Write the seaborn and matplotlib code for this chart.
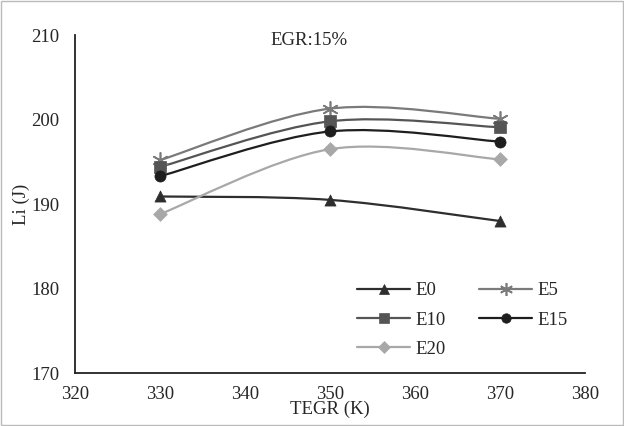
import numpy as np
import pandas as pd
import seaborn as sns
import matplotlib
matplotlib.use("Agg")
import matplotlib.pyplot as plt
from matplotlib.path import Path
from matplotlib.patches import PathPatch
from matplotlib.lines import Line2D

tegr = [330, 350, 370]
e0 = [190.9, 190.5, 188.0]
e5 = [195.2, 201.3, 200.1]
e10 = [194.4, 199.8, 199.1]
e15 = [193.3, 198.6, 197.4]
e20 = [188.8, 196.5, 195.3]
series_names = ["E0", "E5", "E10", "E15", "E20"]
series_vals = [e0, e5, e10, e15, e20]

colors = {"E0": "#2e2e2e", "E5": "#7a7a7a", "E10": "#555555", "E15": "#1e1e1e", "E20": "#a8a8a8"}
markers = {"E0": "^", "E5": (6, 2, 0), "E10": "s", "E15": "o", "E20": "D"}
msizes = {"E0": 8, "E5": 11, "E10": 8, "E15": 8, "E20": 7}

rows = []
for n, v in zip(series_names, series_vals):
    for x, y in zip(tegr, v):
        rows.append({"TEGR": x, "Li": y, "series": n})
df = pd.DataFrame(rows)

sns.set_style("white")
plt.rcParams["font.family"] = ["Liberation Serif", "DejaVu Serif"]

fig = plt.figure(figsize=(6.24, 4.26), dpi=100)
ax = fig.add_axes([0.120, 0.1244, 0.817, 0.793])

def smooth_path(xs, ys):
    pts = np.column_stack([xs, ys]).astype(float)
    n = len(pts)
    verts = [pts[0]]
    codes = [Path.MOVETO]
    for i in range(n - 1):
        p0 = pts[i - 1] if i > 0 else pts[i]
        p1 = pts[i]
        p2 = pts[i + 1]
        p3 = pts[i + 2] if i + 2 < n else pts[i + 1]
        c1 = p1 + (p2 - p0) / 6.0
        c2 = p2 - (p3 - p1) / 6.0
        verts += [c1, c2, p2]
        codes += [Path.CURVE4] * 3
    return Path(verts, codes)

for n, v in zip(series_names, series_vals):
    patch = PathPatch(smooth_path(tegr, v), facecolor="none", edgecolor=colors[n], lw=1.6, zorder=2)
    ax.add_patch(patch)

for n in series_names:
    sub = df[df.series == n]
    sns.scatterplot(data=sub, x="TEGR", y="Li", ax=ax, color=colors[n], marker=markers[n],
                    s=msizes[n] ** 2, edgecolor=colors[n],
                    linewidth=1.2 if n == "E5" else 0.5, zorder=3, legend=False)

ax.set_xlim(320, 380)
ax.set_ylim(170, 210)
ax.set_xticks([320, 330, 340, 350, 360, 370, 380])
ax.set_yticks([170, 180, 190, 200, 210])
for s in ["top", "right"]:
    ax.spines[s].set_visible(False)
for s in ["left", "bottom"]:
    ax.spines[s].set_color("#222222")
    ax.spines[s].set_linewidth(1.3)
ax.tick_params(axis="y", which="both", direction="out", length=5, width=1.2, color="#222222", labelsize=13.5, pad=6)
ax.tick_params(axis="x", which="both", direction="out", length=3, width=1.2, color="#222222", labelsize=13.5, pad=6)
ax.set_xlabel("TEGR (K)", fontsize=13.5, labelpad=-1)
ax.set_ylabel("Li (J)", fontsize=13.5, labelpad=1)

ax.text(0.46, 0.985, "EGR:15%", transform=ax.transAxes, fontsize=13.5, ha="center", va="center")

handles = {n: Line2D([0], [0], color=colors[n], lw=1.6, marker=markers[n], markersize=msizes[n] * 0.85,
                     markeredgewidth=1.2 if n == "E5" else 0.5, markeredgecolor=colors[n]) for n in series_names}
order = ["E0", "E10", "E20", "E5", "E15"]
leg = ax.legend([handles[n] for n in order], order, ncol=2, frameon=False, loc="lower right",
                bbox_to_anchor=(1.0, -0.005), fontsize=13.5, handlelength=2.8, columnspacing=1.8,
                handletextpad=0.3, labelspacing=0.65)

fig.patches.append(plt.Rectangle((0.002, 0.002), 0.996, 0.996, transform=fig.transFigure,
                                 fill=False, edgecolor="#bbbbbb", lw=1))
fig.savefig("out.png", dpi=100, facecolor="white")
